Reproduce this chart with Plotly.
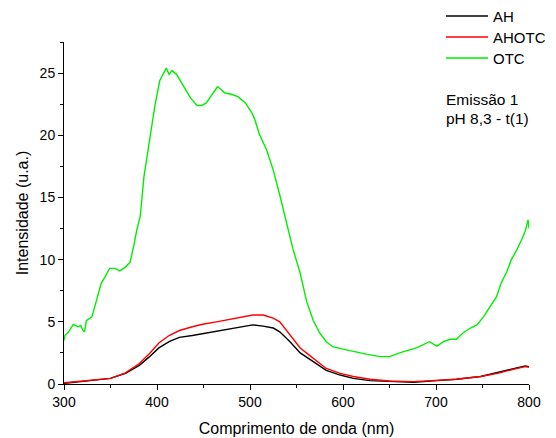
import plotly.graph_objects as go

# OTC (green)
otc_x = [300, 301, 305, 310, 315, 318, 320, 322, 324, 330, 333, 337, 340, 344, 349, 355, 360, 366,
         371, 375, 378, 382, 386, 392, 398, 403, 407, 410, 413, 416, 421, 428, 436, 443, 448, 453,
         460, 465, 467, 473, 480, 487, 495, 502, 505, 510, 518, 525, 532, 539, 546, 554, 561, 568,
         575, 582, 589, 600, 611, 625, 640, 650, 665, 679, 693, 701, 708, 715, 722, 729, 737, 744,
         751, 758, 765, 770, 776, 781, 787, 792, 796, 799, 800]
otc_y = [3.5, 3.9, 4.2, 4.8, 4.6, 4.7, 4.35, 4.2, 5.1, 5.4, 6.2, 7.3, 8.1, 8.6, 9.3, 9.3, 9.1, 9.4,
         9.8, 11.1, 12.3, 13.5, 16.7, 19.6, 22.5, 24.4, 25.0, 25.4, 24.9, 25.2, 24.9, 24.0, 23.0, 22.4, 22.4, 22.6,
         23.4, 23.9, 23.8, 23.4, 23.3, 23.1, 22.6, 21.8, 21.3, 20.1, 18.8, 17.2, 15.2, 13.0, 10.9, 8.9, 6.6, 5.1,
         4.1, 3.4, 3.0, 2.8, 2.6, 2.4, 2.2, 2.2, 2.6, 2.9, 3.4, 3.05, 3.4, 3.6, 3.6, 4.1, 4.5, 4.75,
         5.4, 6.2, 7.0, 8.1, 9.0, 10.0, 10.8, 11.6, 12.3, 13.2, 12.5]

# AH (black)
ah_x = [300, 330, 350, 366, 381, 392, 402, 413, 424, 438, 449, 464, 478, 492, 503, 514, 525, 532,
        543, 554, 564, 573, 582, 597, 611, 629, 650, 676, 701, 722, 748, 766, 784, 796, 800]
ah_y = [0.05, 0.3, 0.45, 0.85, 1.5, 2.2, 2.9, 3.4, 3.75, 3.9, 4.05, 4.25, 4.4, 4.6, 4.75, 4.65, 4.5, 4.2,
        3.4, 2.5, 2.0, 1.5, 1.1, 0.72, 0.45, 0.27, 0.19, 0.13, 0.27, 0.38, 0.6, 0.9, 1.25, 1.45, 1.4]

# AHOTC (red)
ahotc_x = [300, 330, 350, 366, 381, 392, 402, 413, 424, 438, 449, 464, 478, 492, 503, 514, 525, 532,
           543, 554, 564, 573, 582, 597, 611, 629, 650, 676, 701, 722, 748, 766, 784, 796, 800]
ahotc_y = [0.1, 0.3, 0.45, 0.9, 1.65, 2.45, 3.3, 3.9, 4.3, 4.6, 4.8, 5.0, 5.2, 5.4, 5.55, 5.55, 5.3, 5.0,
           3.9, 2.9, 2.3, 1.8, 1.25, 0.85, 0.6, 0.38, 0.24, 0.19, 0.27, 0.38, 0.6, 0.85, 1.2, 1.4, 1.35]

series_names = ["AH", "AHOTC", "OTC"]
series_colors = ["black", "#ff0000", "#00ee00"]
note_lines = ["Emissão 1", "pH 8,3 - t(1)"]

x_ticks = [300, 400, 500, 600, 700, 800]
y_ticks = [0, 5, 10, 15, 20, 25]

FONT = "Liberation Sans, Arial, sans-serif"

fig = go.Figure()
for name, xs, ys, col in zip(series_names, [ah_x, ahotc_x, otc_x], [ah_y, ahotc_y, otc_y], series_colors):
    fig.add_trace(go.Scatter(x=xs, y=ys, mode="lines", name=name, showlegend=False,
                             line=dict(color=col, width=1.4)))

# custom legend (lines + labels) above the plot, right side
leg_y = [1.076, 1.0146, 0.9532]
for name, col, yy in zip(series_names, series_colors, leg_y):
    fig.add_shape(type="line", xref="paper", yref="paper", x0=0.8215, x1=0.9118, y0=yy, y1=yy,
                  line=dict(color=col, width=1.3))
    fig.add_annotation(xref="paper", yref="paper", x=0.918, y=yy, xanchor="left", yanchor="middle",
                       text=name, showarrow=False, font=dict(family=FONT, size=15, color="black"))

for txt, yy in zip(note_lines, [0.8333, 0.7749]):
    fig.add_annotation(xref="paper", yref="paper", x=0.818, y=yy, xanchor="left", yanchor="middle",
                       text=txt, showarrow=False, font=dict(family=FONT, size=15.5, color="black"))

fig.update_layout(
    width=548, height=430,
    margin=dict(l=56, r=27, t=34, b=54, autoexpand=False),
    paper_bgcolor="white", plot_bgcolor="white",
    font=dict(family=FONT, color="black"),
    showlegend=False,
    xaxis=dict(range=[300, 800], tickvals=x_ticks, ticktext=[str(v) for v in x_ticks],
               showline=True, linecolor="black", linewidth=1, showgrid=False, zeroline=False,
               automargin=False,
               ticks="outside", ticklen=5, tickcolor="black", tickfont=dict(size=14),
               minor=dict(dtick=50, ticks="outside", ticklen=3, tickcolor="black", showgrid=False),
               title=dict(text="Comprimento de onda (nm)", font=dict(size=16), standoff=14)),
    yaxis=dict(range=[0, 27.5], tickvals=y_ticks, ticktext=[str(v) for v in y_ticks],
               showline=True, linecolor="black", linewidth=1, showgrid=False, zeroline=False,
               automargin=False,
               ticks="outside", ticklen=5, tickcolor="black", tickfont=dict(size=14),
               minor=dict(dtick=2.5, ticks="outside", ticklen=3, tickcolor="black", showgrid=False),
               title=dict(text="Intensidade (u.a.)", font=dict(size=16), standoff=7)),
)

fig.write_html("out.html")
